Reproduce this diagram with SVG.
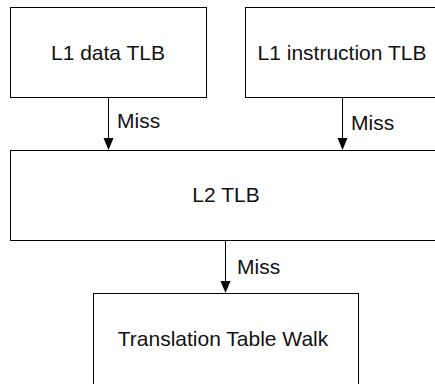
<svg xmlns="http://www.w3.org/2000/svg" width="435" height="384" viewBox="0 0 435 384">
<style>
.box{fill:#fff;stroke:#000;stroke-width:1}
.t{font-family:"Liberation Sans",Arial,sans-serif;font-size:21px;fill:#111}
.e{stroke:#000;stroke-width:1;fill:none}
.ah{fill:#000}
</style>
<rect width="435" height="384" fill="#fff"/>
<g id="l1data"><rect class="box" x="10.5" y="7.5" width="196" height="90"/><text class="t" x="108" y="59.5" text-anchor="middle">L1 data TLB</text></g>
<g id="l1instr"><rect class="box" x="245.5" y="7.5" width="196" height="90"/><text class="t" x="342" y="59.5" text-anchor="middle">L1 instruction TLB</text></g>
<g id="l2"><rect class="box" x="10.5" y="150.5" width="432" height="90"/><text class="t" x="226" y="201.5" text-anchor="middle">L2 TLB</text></g>
<g id="walk"><rect class="box" x="93.5" y="293.5" width="265" height="100"/><text class="t" x="223" y="346" text-anchor="middle">Translation Table Walk</text></g>
<g id="connectors">
<line class="e" x1="108.5" y1="97.5" x2="108.5" y2="139"/>
<path class="ah" d="M103.5,138 L113.5,138 L108.5,150 Z"/>
<text class="t" x="117" y="127.5">Miss</text>
<line class="e" x1="342.5" y1="97.5" x2="342.5" y2="139"/>
<path class="ah" d="M337.5,138 L347.5,138 L342.5,150 Z"/>
<text class="t" x="351" y="130">Miss</text>
<line class="e" x1="225.5" y1="240.5" x2="225.5" y2="282"/>
<path class="ah" d="M220.5,281 L230.5,281 L225.5,293 Z"/>
<text class="t" x="237" y="274">Miss</text>
</g>
</svg>
